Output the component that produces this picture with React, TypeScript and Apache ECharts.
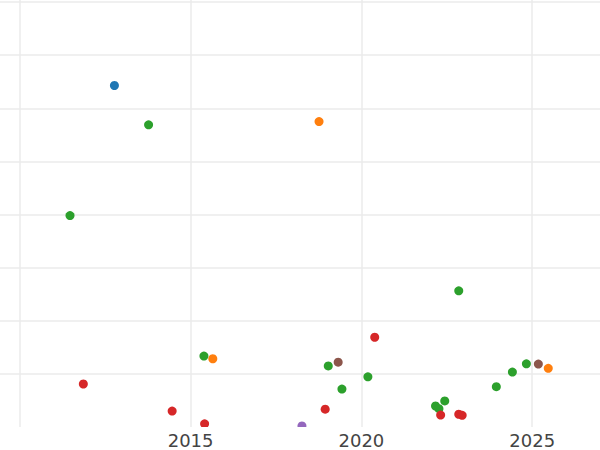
import React, { useEffect, useRef } from "react";
import * as echarts from "echarts";

// Tick labels shown on the x axis
const xTickLabels = ["2015", "2020", "2025"];

// Series (grouped by colour): years and values
const blueYears = [2012.77];
const blueValues = [64.3];

const orangeYears = [2018.76, 2015.65, 2025.47];
const orangeValues = [57.5, 12.85, 11.05];

const greenYears = [
  2013.77, 2011.47, 2022.85, 2024.83, 2024.42, 2023.95, 2022.44, 2022.17,
  2022.27, 2015.39, 2019.03, 2020.19, 2019.43,
];
const greenValues = [
  56.9, 39.8, 25.65, 11.9, 10.35, 7.6, 4.9, 3.95, 3.45, 13.35, 11.5, 9.45, 7.15,
];

const redYears = [2011.86, 2014.46, 2015.41, 2018.94, 2020.39, 2022.32, 2022.85, 2022.95];
const redValues = [8.1, 3.0, 0.6, 3.35, 16.9, 2.25, 2.4, 2.2];

const purpleYears = [2018.26];
const purpleValues = [0.2];

const brownYears = [2019.32, 2025.18];
const brownValues = [12.2, 11.85];

const seriesNames = ["A", "B", "C", "D", "E", "F"];
const seriesColors = ["#1f77b4", "#ff7f0e", "#2ca02c", "#d62728", "#9467bd", "#8c564b"];

const zip = (xs: number[], ys: number[]) => xs.map((x, i) => [x, ys[i]]);

export default function App() {
  const ref = useRef<HTMLDivElement>(null);
  useEffect(() => {
    if (!ref.current) return;
    const chart = echarts.init(ref.current, null, { renderer: "svg" });
    const groups = [
      zip(blueYears, blueValues),
      zip(orangeYears, orangeValues),
      zip(greenYears, greenValues),
      zip(redYears, redValues),
      zip(purpleYears, purpleValues),
      zip(brownYears, brownValues),
    ];
    const gridLine = "#ebebeb";
    chart.setOption({
      animation: false,
      backgroundColor: "#ffffff",
      grid: { left: 0, right: 0, top: 0, bottom: 23, containLabel: false },
      xAxis: {
        type: "value",
        min: 2005,
        max: 2030,
        interval: 5,
        z: 20,
        axisLine: { show: false },
        axisTick: { show: false },
        splitLine: { show: true, lineStyle: { color: gridLine, width: 1.5 } },
        axisLabel: {
          margin: 4,
          fontSize: 18,
          fontFamily: "DejaVu Sans",
          color: "#444444",
          formatter: (v: number) => (xTickLabels.includes(String(v)) ? String(v) : ""),
        },
      },
      yAxis: {
        type: "value",
        min: 0,
        max: 80.4,
        interval: 10,
        axisLine: { show: false },
        axisTick: { show: false },
        axisLabel: { show: false },
        splitLine: {
          show: true,
          lineStyle: {
            color: ["rgba(0,0,0,0)", gridLine, gridLine, gridLine, gridLine, gridLine, gridLine, gridLine, gridLine],
            width: 1.5,
          },
        },
      },
      graphic: [
        {
          type: "rect",
          z: 10,
          shape: { x: 0, y: 427, width: 860, height: 23 },
          style: { fill: "#ffffff" },
        },
      ],
      series: groups.map((data, i) => ({
        type: "scatter",
        name: seriesNames[i],
        data,
        symbolSize: 9,
        clip: false,
        itemStyle: { color: seriesColors[i], opacity: 1 },
      })),
    });
    return () => chart.dispose();
  }, []);
  return (
    <div
      style={{
        position: "absolute",
        left: 0,
        top: 0,
        width: 600,
        height: 450,
        overflow: "hidden",
        background: "#ffffff",
      }}
    >
      <div
        ref={ref}
        style={{ position: "absolute", left: -154, top: 0, width: 860, height: 450 }}
      />
    </div>
  );
}
